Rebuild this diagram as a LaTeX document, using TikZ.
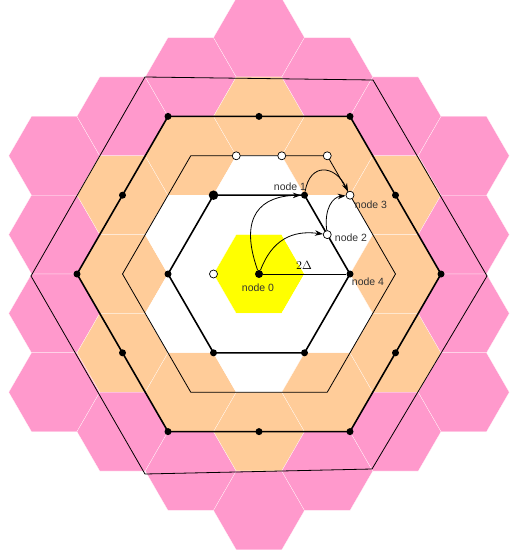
\documentclass[tikz,border=0pt]{standalone}
\usepackage{fontspec}
\newfontfamily\labfont{Liberation Sans}
\usetikzlibrary{arrows.meta}
\definecolor{hexorange}{HTML}{FFCC99}
\definecolor{hexpink}{HTML}{FF99CC}
\definecolor{hexyellow}{HTML}{FFFF00}
\definecolor{labgray}{HTML}{333333}
\begin{document}
\begin{tikzpicture}[x=1pt,y=-1pt,
  blackdot/.style={circle,fill=black,inner sep=0pt,minimum size=7pt},
  bigdot/.style={circle,fill=black,inner sep=0pt,minimum size=9.5pt},
  whitedot/.style={circle,fill=white,draw=black,line width=0.7pt,inner sep=0pt,minimum size=8pt},
  thickline/.style={line width=1.6pt,line join=round},
  thinline/.style={line width=0.8pt,line join=round},
  arr/.style={line width=0.8pt,-{Stealth[length=8pt,width=5.5pt]}},
  lab/.style={font=\labfont\fontsize{10.5}{12}\selectfont,text=labgray,inner sep=0pt},
  hexcell/.style={draw=white,line width=0.2pt}]
\useasboundingbox (0,0) rectangle (509,554);
\def\R{45.5}
% hexagonal cells
\foreach \q in {-3,...,3}{
  \foreach \r in {-3,...,3}{
    \pgfmathtruncatemacro{\d}{max(abs(\q),abs(\r),abs(\q+\r))}
    \ifnum\d<4
      \ifcase\d \def\col{hexyellow}\or\def\col{white}\or\def\col{hexorange}\or\def\col{hexpink}\fi
      \pgfmathsetmacro{\cx}{259+1.5*\R*\q}
      \pgfmathsetmacro{\cy}{274+sqrt(3)*\R*(\r+\q/2)}
      \filldraw[hexcell,fill=\col] (\cx,\cy) +(0:\R) -- +(60:\R) -- +(120:\R) -- +(180:\R) -- +(240:\R) -- +(300:\R) -- cycle;
    \fi
  }}
% outer thin hexagon
\coordinate (O0) at (487,276);
\coordinate (O1) at (373,80);
\coordinate (O2) at (145,77);
\coordinate (O3) at (31,276);
\coordinate (O4) at (145,474);
\coordinate (O5) at (372,469);
\draw[thinline] (O0) -- (O1) -- (O2) -- (O3) -- (O4) -- (O5) -- cycle;
% third (thick) hexagon
\coordinate (D0) at (441,274);
\coordinate (D1) at (350,116.38);
\coordinate (D2) at (168,116.38);
\coordinate (D3) at (77,274);
\coordinate (D4) at (168,431.62);
\coordinate (D5) at (350,431.62);
\draw[thickline] (D0) -- (D1) -- (D2) -- (D3) -- (D4) -- (D5) -- cycle;
% second (thin) hexagon
\coordinate (B0) at (395.5,274);
\coordinate (B1) at (327.25,155.79);
\coordinate (B2) at (190.75,155.79);
\coordinate (B3) at (122.5,274);
\coordinate (B4) at (190.75,392.21);
\coordinate (B5) at (327.25,392.21);
\draw[thinline] (B0) -- (B1) -- (B2) -- (B3) -- (B4) -- (B5) -- cycle;
% inner (thick) hexagon
\coordinate (A0) at (350,274);
\coordinate (A1) at (304.5,195.19);
\coordinate (A2) at (213.5,195.19);
\coordinate (A3) at (168,274);
\coordinate (A4) at (213.5,352.81);
\coordinate (A5) at (304.5,352.81);
\draw[thickline] (A0) -- (A1) -- (A2) -- (A3) -- (A4) -- (A5) -- cycle;
% dots on third hexagon
\foreach \p/\n in {{(441,274)}/d1,{(350,116.38)}/d2,{(168,116.38)}/d3,{(77,274)}/d4,{(168,431.62)}/d5,{(350,431.62)}/d6,
  {(259,116.38)}/d7,{(395.5,195.19)}/d8,{(395.5,352.81)}/d9,{(259,431.62)}/d10,{(122.5,352.81)}/d11,{(122.5,195.19)}/d12}
  \node[blackdot] (\n) at \p {};
% dots on second hexagon
\node[whitedot] (w1) at (236.25,155.79) {};
\node[whitedot] (w2) at (281.75,155.79) {};
\node[whitedot] (w3) at (327.25,155.79) {};
\node[whitedot] (n3) at (350,195.19) {};
% dots on inner hexagon
\node[blackdot] (n4) at (350,274) {};
\node[blackdot] (n1) at (304.5,195.19) {};
\node[bigdot] (a2) at (213.5,195.19) {};
\node[blackdot] (a3) at (168,274) {};
\node[blackdot] (a4) at (213.5,352.81) {};
\node[blackdot] (a5) at (304.5,352.81) {};
\node[whitedot] (n2) at (327.25,234.6) {};
% centre
\node[whitedot] (yw) at (213.5,274) {};
\node[blackdot,minimum size=8pt] (n0) at (259,274) {};
\draw[thinline] (n0) -- (n4);
% arrows
\draw[arr] (n0) .. controls (238,215) and (262,196) .. (n1);
\draw[arr] (n0) .. controls (272,240) and (292,230) .. (n2);
\draw[arr] (n2) .. controls (324,208) and (333,197) .. (n3);
\draw[arr] (n1) .. controls (310,162) and (335,165) .. (n3);
% labels
\node[lab] (l1) at (290,187) {node 1};
\node[lab] (l2) at (351,238) {node 2};
\node[lab] (l3) at (371,205) {node 3};
\node[lab] (l4) at (368,282) {node 4};
\node[lab] (l0) at (258,288) {node 0};
\node[inner sep=0pt,font=\fontsize{12}{14}\selectfont] (delta) at (304,265) {$2\Delta$};
\end{tikzpicture}
\end{document}
